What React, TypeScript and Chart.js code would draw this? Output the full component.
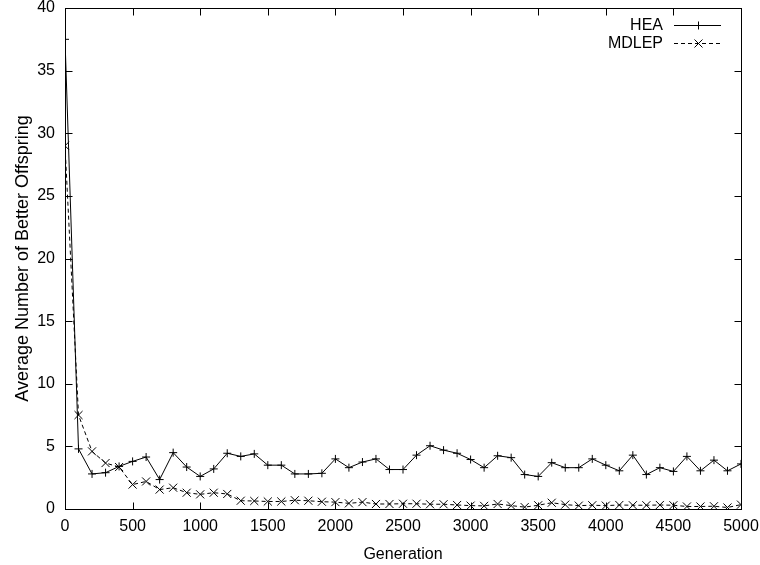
import React, { useEffect, useRef } from "react";
import { Chart, registerables } from "chart.js";

Chart.register(...registerables);

const generations: number[] = [
  0, 100, 200, 300, 400, 500, 600, 700, 800, 900, 1000, 1100, 1200, 1300, 1400, 1500, 1600, 1700, 1800, 1900,
  2000, 2100, 2200, 2300, 2400, 2500, 2600, 2700, 2800, 2900, 3000, 3100, 3200, 3300, 3400, 3500, 3600, 3700,
  3800, 3900, 4000, 4100, 4200, 4300, 4400, 4500, 4600, 4700, 4800, 4900, 5000,
];

const heaValues: number[] = [
  37.5, 4.8, 2.8, 2.9, 3.4, 3.8, 4.15, 2.35, 4.5, 3.35, 2.6, 3.2, 4.45, 4.2, 4.4, 3.5, 3.5, 2.8, 2.8, 2.85,
  4.0, 3.3, 3.75, 4.0, 3.15, 3.15, 4.3, 5.05, 4.7, 4.45, 3.95, 3.3, 4.25, 4.1, 2.75, 2.6, 3.7, 3.3,
  3.3, 4.0, 3.5, 3.05, 4.3, 2.75, 3.3, 3.0, 4.2, 3.05, 3.9, 3.05, 3.6,
];

const mdlepValues: number[] = [
  29.0, 7.5, 4.6, 3.67, 3.35, 1.95, 2.2, 1.55, 1.7, 1.3, 1.17, 1.3, 1.2, 0.66, 0.64, 0.6, 0.6, 0.7, 0.66, 0.58,
  0.55, 0.45, 0.55, 0.4, 0.4, 0.42, 0.42, 0.38, 0.38, 0.32, 0.27, 0.25, 0.4, 0.27, 0.15, 0.3, 0.5, 0.35,
  0.27, 0.3, 0.27, 0.32, 0.3, 0.3, 0.32, 0.3, 0.2, 0.2, 0.22, 0.12, 0.35,
];

const seriesNames: string[] = ["HEA", "MDLEP"];
const xTitle = "Generation";
const yTitle = "Average Number of Better Offspring";

const FONT = "'Liberation Sans', Arial, Helvetica, sans-serif";

const framePlugin = {
  id: "gnuplotFrame",
  afterDraw(chart: any) {
    const { ctx, chartArea } = chart;
    const { left, right, top, bottom } = chartArea;
    const xs = chart.scales.x;
    const ys = chart.scales.y;
    ctx.save();
    ctx.strokeStyle = "#000";
    ctx.lineWidth = 1;
    ctx.setLineDash([]);
    const L = Math.round(left) + 0.5;
    const R = Math.round(right) + 0.5;
    const T = Math.round(top) + 0.5;
    const B = Math.round(bottom) + 0.5;
    ctx.strokeRect(L, T, R - L, B - T);
    const tl = 7;
    ctx.beginPath();
    xs.ticks.forEach((t: any) => {
      const px = Math.round(xs.getPixelForValue(t.value)) + 0.5;
      ctx.moveTo(px, B);
      ctx.lineTo(px, B - tl);
      ctx.moveTo(px, T);
      ctx.lineTo(px, T + tl);
    });
    ys.ticks.forEach((t: any) => {
      const py = Math.round(ys.getPixelForValue(t.value)) + 0.5;
      ctx.moveTo(L, py);
      ctx.lineTo(L + tl, py);
      ctx.moveTo(R, py);
      ctx.lineTo(R - tl, py);
    });
    ctx.stroke();

    ctx.font = `16px ${FONT}`;
    ctx.fillStyle = "#000";
    ctx.textAlign = "right";
    ctx.textBaseline = "middle";
    const textRight = right - 78;
    const sx0 = right - 67;
    const sx1 = right - 20;
    const rows = [top + 17, top + 35];
    chart.data.datasets.forEach((ds: any, i: number) => {
      const y = Math.round(rows[i]) + 0.5;
      ctx.fillText(ds.label, textRight, y);
      ctx.setLineDash(ds.borderDash || []);
      ctx.beginPath();
      ctx.moveTo(sx0, y);
      ctx.lineTo(sx1, y);
      ctx.stroke();
      ctx.setLineDash([]);
      const cx = Math.round((sx0 + sx1) / 2) + 0.5;
      ctx.beginPath();
      if (ds.pointStyle === "cross") {
        const r = 4;
        ctx.moveTo(cx - r, y);
        ctx.lineTo(cx + r, y);
        ctx.moveTo(cx, y - r);
        ctx.lineTo(cx, y + r);
      } else {
        const d = 4;
        ctx.moveTo(cx - d, y - d);
        ctx.lineTo(cx + d, y + d);
        ctx.moveTo(cx - d, y + d);
        ctx.lineTo(cx + d, y - d);
      }
      ctx.stroke();
    });
    ctx.restore();
  },
};

export default function App() {
  const canvasRef = useRef<HTMLCanvasElement | null>(null);

  useEffect(() => {
    const prevMargin = document.body.style.margin;
    document.body.style.margin = "0";
    const canvas = canvasRef.current;
    if (!canvas) return;
    const chart = new Chart(canvas, {
      type: "line",
      data: {
        datasets: [
          {
            label: seriesNames[0],
            data: generations.map((g, i) => ({ x: g, y: heaValues[i] })),
            borderColor: "#000",
            backgroundColor: "#000",
            borderWidth: 1,
            pointStyle: "cross",
            pointRadius: 4,
            pointBorderWidth: 1,
            pointBorderColor: "#000",
            tension: 0,
            fill: false,
          },
          {
            label: seriesNames[1],
            data: generations.map((g, i) => ({ x: g, y: mdlepValues[i] })),
            borderColor: "#000",
            backgroundColor: "#000",
            borderWidth: 1,
            borderDash: [4, 3],
            pointStyle: "crossRot",
            pointRadius: 5.7,
            pointBorderWidth: 1,
            pointBorderColor: "#000",
            tension: 0,
            fill: false,
          },
        ],
      },
      options: {
        animation: false,
        responsive: false,
        maintainAspectRatio: false,
        layout: { padding: { top: 8, right: 19, left: 0, bottom: 0 } },
        plugins: {
          legend: { display: false },
          tooltip: { enabled: false },
        },
        scales: {
          x: {
            type: "linear",
            min: 0,
            max: 5000,
            ticks: {
              stepSize: 500,
              color: "#000",
              font: { family: FONT, size: 16 },
              padding: 8,
              maxRotation: 0,
              callback: (v: any) => String(v),
            },
            grid: { display: false, drawTicks: false },
            border: { display: false },
            title: {
              display: true,
              text: xTitle,
              color: "#000",
              font: { family: FONT, size: 16 },
              padding: { top: 2, bottom: 1 },
            },
            afterFit: (s: any) => {
              s.height = 56;
              s.paddingLeft = 0;
              s.paddingRight = 0;
            },
          },
          y: {
            type: "linear",
            min: 0,
            max: 40,
            ticks: {
              stepSize: 5,
              color: "#000",
              font: { family: FONT, size: 16 },
              padding: 10,
              callback: (v: any) => String(v),
            },
            grid: { display: false, drawTicks: false },
            border: { display: false },
            title: {
              display: true,
              text: yTitle,
              color: "#000",
              font: { family: FONT, size: 18 },
              padding: { top: 12, bottom: 4 },
            },
            afterFit: (s: any) => {
              s.width = 65;
              s.paddingTop = 0;
              s.paddingBottom = 0;
            },
          },
        },
      },
      plugins: [framePlugin],
    });
    return () => {
      chart.destroy();
      document.body.style.margin = prevMargin;
    };
  }, []);

  return (
    <div style={{ width: 760, height: 565, position: "relative", background: "#fff" }}>
      <canvas ref={canvasRef} width={760} height={565} style={{ width: 760, height: 565, display: "block" }} />
    </div>
  );
}
